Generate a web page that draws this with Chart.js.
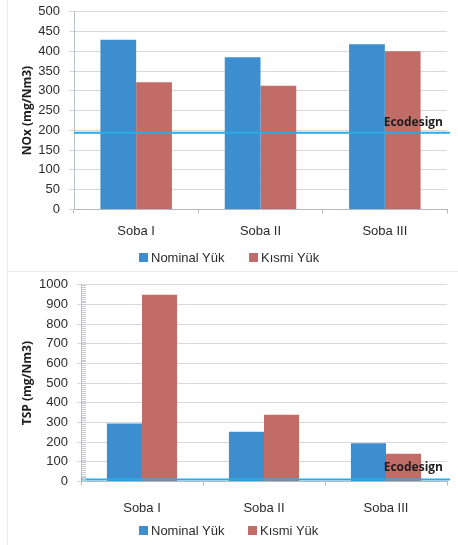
<!DOCTYPE html>
<html>
<head>
<meta charset="utf-8">
<script src="https://cdn.jsdelivr.net/npm/chart.js@4.4.1/dist/chart.umd.min.js"></script>
<style>
  html, body { margin: 0; padding: 0; background: #fff; }
  body { width: 458px; height: 545px; position: relative; overflow: hidden; }
  .panel { position: absolute; left: 0; width: 458px; }
  #top { top: -5px; height: 271px; }
  #bottom { top: 268px; height: 274px; }
  .frame-v { position: absolute; left: 7px; top: 0; width: 1px; height: 545px; background: #ececec; }
  .frame-h { position: absolute; left: 7px; top: 271px; width: 451px; height: 1px; background: #ececec; }
  .legend { position: absolute; left: 0; width: 458px; height: 16px; font: 13px "Liberation Sans", Arial, sans-serif; color: #2b2b2b; }
  .legend .item { position: absolute; top: 0; line-height: 16px; white-space: nowrap; }
  .legend .box { position: absolute; top: 3px; left: 0; width: 9px; height: 9px; }
  .legend .txt { position: absolute; left: 12px; top: 0; }
</style>
</head>
<body>
<div class="panel" id="top"><canvas id="noxChart" width="458" height="271"></canvas></div>
<div class="panel" id="bottom"><canvas id="tspChart" width="458" height="274"></canvas></div>
<div class="legend" id="noxLegend" style="top:250px"></div>
<div class="legend" id="tspLegend" style="top:523px"></div>
<div class="frame-v"></div>
<div class="frame-h"></div>
<script>
// Stoves and load conditions
const categories = ['Soba I', 'Soba II', 'Soba III'];
const seriesNames = ['Nominal Yük', 'Kısmi Yük'];

// NOx emissions (mg/Nm3)
const noxNominal = [429, 385, 418];
const noxPartial = [322, 313, 400];
const noxLimit = 194;

// TSP emissions (mg/Nm3)
const tspNominal = [295, 252, 194];
const tspPartial = [949, 339, 141];
const tspLimit = 10;

const blue = '#3C8ECF';
const red = '#C16C66';
const tickFont = { family: 'Liberation Sans, Arial, sans-serif', size: 13 };
const titleFont = { family: 'Open Sans, sans-serif', size: 12, weight: 'bold' };

// Horizontal Ecodesign limit line with its caption
const limitLine = {
  id: 'limitLine',
  afterDatasetsDraw(chart, args, opts) {
    const { ctx, chartArea, scales } = chart;
    const y = scales.y.getPixelForValue(opts.value);
    ctx.save();
    ctx.strokeStyle = '#2AADE6';
    ctx.lineWidth = 2;
    ctx.beginPath();
    ctx.moveTo(chartArea.left, y);
    ctx.lineTo(chartArea.right + 3, y);
    ctx.stroke();
    ctx.font = 'bold 12px "Open Sans", sans-serif';
    ctx.fillStyle = '#1e1e1e';
    ctx.textAlign = 'right';
    ctx.textBaseline = 'middle';
    ctx.fillText(opts.label, chartArea.right - 4, y - opts.textGap);
    ctx.restore();
  }
};

// Fine tick marks along the value axis
const minorTicks = {
  id: 'minorTicks',
  afterDraw(chart, args, opts) {
    if (!opts.step) return;
    const { ctx, chartArea, scales } = chart;
    const s = scales.y;
    ctx.save();
    ctx.strokeStyle = '#c9ccd1';
    ctx.lineWidth = 1;
    ctx.beginPath();
    for (let v = s.min; v <= s.max; v += opts.step) {
      const y = Math.round(s.getPixelForValue(v)) + 0.5;
      ctx.moveTo(chartArea.left + 1, y);
      ctx.lineTo(chartArea.left + 5, y);
    }
    ctx.stroke();
    ctx.restore();
  }
};

// Legend row under each chart, built from the chart's datasets
function buildLegend(chart, elId, positions) {
  const el = document.getElementById(elId);
  chart.data.datasets.forEach((ds, i) => {
    const item = document.createElement('div');
    item.className = 'item';
    item.style.left = positions[i] + 'px';
    const box = document.createElement('span');
    box.className = 'box';
    box.style.background = ds.backgroundColor;
    const txt = document.createElement('span');
    txt.className = 'txt';
    txt.textContent = ds.label;
    item.appendChild(box);
    item.appendChild(txt);
    el.appendChild(item);
  });
}

function makeChart(id, nominal, partial, limit, yMax, yStep, axisTitle, axisWidth, opts) {
  return new Chart(document.getElementById(id), {
    type: 'bar',
    data: {
      labels: categories,
      datasets: [
        { label: seriesNames[0], data: nominal, backgroundColor: blue },
        { label: seriesNames[1], data: partial, backgroundColor: red }
      ]
    },
    options: {
      responsive: false,
      animation: false,
      devicePixelRatio: 1,
      layout: { padding: opts.padding },
      datasets: { bar: { categoryPercentage: 0.575, barPercentage: 1 } },
      scales: {
        x: {
          grid: { display: true, drawOnChartArea: false, tickLength: 4, color: '#b5b9bf', offset: true },
          border: { color: '#b5b9bf' },
          ticks: { font: tickFont, color: '#2b2b2b', padding: opts.xPad }
        },
        y: {
          min: 0, max: yMax,
          afterFit(scale) { scale.width = axisWidth; },
          grid: { color: '#d8d8d8', tickLength: opts.tickLen },
          border: { color: '#b9c0c8' },
          ticks: {
            stepSize: yStep, autoSkip: false, font: tickFont, color: '#2b2b2b', padding: opts.yPad,
            callback: (v) => String(v)
          },
          title: { display: true, text: axisTitle, font: titleFont, color: '#1e1e1e', padding: { top: 0, bottom: 0 } }
        }
      },
      plugins: {
        legend: { display: false },
        tooltip: { enabled: false },
        limitLine: { value: limit, label: 'Ecodesign', textGap: opts.textGap },
        minorTicks: { step: opts.minorStep }
      }
    },
    plugins: [limitLine, minorTicks]
  });
}

const nox = makeChart('noxChart', noxNominal, noxPartial, noxLimit, 500, 50, 'NOx (mg/Nm3)', 54,
  { padding: { left: 20, right: 11, top: 0, bottom: 17 }, xPad: 10, yPad: 9, tickLen: 5, textGap: 10, minorStep: 0 });
const tsp = makeChart('tspChart', tspNominal, tspPartial, tspLimit, 1000, 100, 'TSP (mg/Nm3)', 61,
  { padding: { left: 20, right: 11, top: 0, bottom: 11 }, xPad: 15, yPad: 9, tickLen: 4, textGap: 12, minorStep: 10 });

buildLegend(nox, 'noxLegend', [139, 249]);
buildLegend(tsp, 'tspLegend', [139, 248]);
</script>
</body>
</html>
